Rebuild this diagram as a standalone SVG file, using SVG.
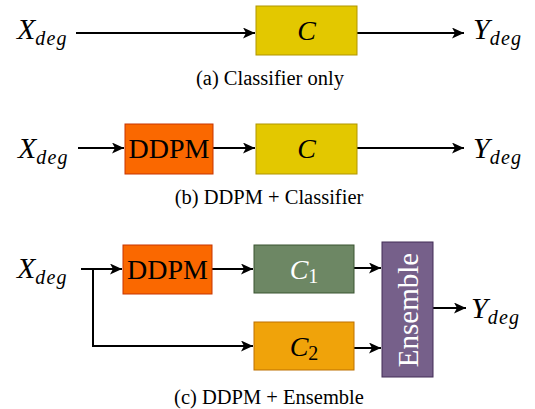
<svg xmlns="http://www.w3.org/2000/svg" width="535" height="409" viewBox="0 0 535 409">
<style>
.math{font-family:"Liberation Serif","Times New Roman",serif;font-style:italic;font-size:30px;fill:#000}
.sub{font-size:20px;letter-spacing:1.2px}
.cm{font-size:28px}
.up{font-style:normal;font-size:20px;letter-spacing:0}
.lbl{font-family:"Liberation Serif","Times New Roman",serif;font-size:28px;fill:#000}
.cap{font-family:"Liberation Serif","Times New Roman",serif;font-size:20.5px;fill:#000;text-anchor:middle}
.ln{fill:none;stroke:#000;stroke-width:2}
</style>
<defs>
<marker id="ah" markerUnits="userSpaceOnUse" markerWidth="14" markerHeight="12" refX="12" refY="5.5" orient="auto">
<path d="M0,0 L12,5.5 L0,11 L3,5.5 Z" fill="#000"/>
</marker>
</defs>
<g id="connectors">
<path class="ln" d="M76,33 H255" marker-end="url(#ah)"/>
<path class="ln" d="M357,33 H464" marker-end="url(#ah)"/>
<path class="ln" d="M78,148 H124" marker-end="url(#ah)"/>
<path class="ln" d="M213,148 H255" marker-end="url(#ah)"/>
<path class="ln" d="M357,148 H464" marker-end="url(#ah)"/>
<path class="ln" d="M81,269 H122" marker-end="url(#ah)"/>
<path class="ln" d="M93,269 V346 H253" marker-end="url(#ah)"/>
<path class="ln" d="M212,269 H253" marker-end="url(#ah)"/>
<path class="ln" d="M354,268 H381" marker-end="url(#ah)"/>
<path class="ln" d="M354,348 H381" marker-end="url(#ah)"/>
<path class="ln" d="M433,308 H466" marker-end="url(#ah)"/>
</g>
<g id="a-x"><text class="math" x="17" y="39">X<tspan class="sub" dy="6">deg</tspan></text></g>
<g id="a-c"><rect x="256" y="6" width="101" height="49" fill="#e3c800" stroke="#b09500" stroke-width="1"/><text class="math cm" x="306.5" y="40" text-anchor="middle">C</text></g>
<g id="a-y"><text class="math" x="473" y="39">Y<tspan class="sub" dy="6">deg</tspan></text></g>
<text class="cap" x="270" y="85">(a) Classifier only</text>

<g id="b-x"><text class="math" x="18" y="158">X<tspan class="sub" dy="6">deg</tspan></text></g>
<g id="b-ddpm"><rect x="125" y="124" width="88" height="50" fill="#fa6800" stroke="#c73500" stroke-width="1"/><text class="lbl" x="169" y="158" text-anchor="middle">DDPM</text></g>
<g id="b-c"><rect x="256" y="124" width="101" height="50" fill="#e3c800" stroke="#b09500" stroke-width="1"/><text class="math cm" x="306.5" y="158" text-anchor="middle">C</text></g>
<g id="b-y"><text class="math" x="473" y="158">Y<tspan class="sub" dy="6">deg</tspan></text></g>
<text class="cap" x="269" y="204">(b) DDPM + Classifier</text>

<g id="c-x"><text class="math" x="17" y="278">X<tspan class="sub" dy="6">deg</tspan></text></g>
<g id="c-ddpm"><rect x="123" y="245" width="89" height="49" fill="#fa6800" stroke="#c73500" stroke-width="1"/><text class="lbl" x="167.5" y="279" text-anchor="middle">DDPM</text></g>
<g id="c-c1"><rect x="254" y="245" width="100" height="48" fill="#6d8764" stroke="#3a5431" stroke-width="1"/><text class="math cm" x="304" y="279" text-anchor="middle" style="fill:#fff">C<tspan class="up" dy="4">1</tspan></text></g>
<g id="c-c2"><rect x="254" y="322" width="100" height="48" fill="#f0a30a" stroke="#bd7000" stroke-width="1"/><text class="math cm" x="304" y="356" text-anchor="middle">C<tspan class="up" dy="4">2</tspan></text></g>
<g id="c-ens"><rect x="382" y="242" width="51" height="135" fill="#76608a" stroke="#432d57" stroke-width="1"/><text class="lbl" x="0" y="0" text-anchor="middle" style="fill:#fff;font-size:29px" transform="translate(418,310) rotate(-90)">Ensemble</text></g>
<g id="c-y"><text class="math" x="471" y="318">Y<tspan class="sub" dy="6">deg</tspan></text></g>
<text class="cap" x="269" y="404">(c) DDPM + Ensemble</text>
</svg>
